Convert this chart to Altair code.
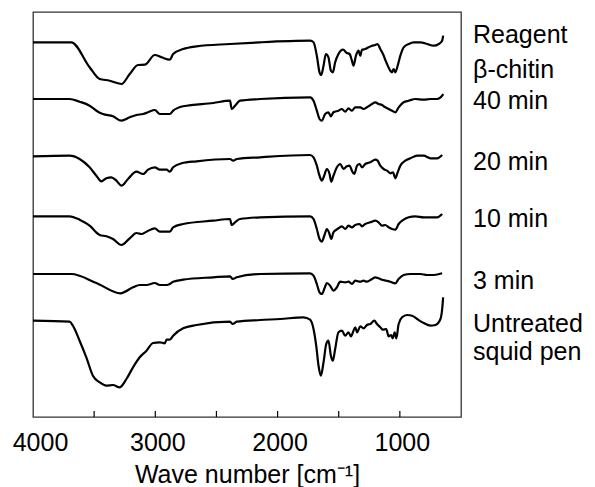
import altair as alt
import pandas as pd

# ---- data (wave number [cm-1], relative transmittance with offsets, a.u.) ----
MAJOR_TICKS = [4000, 3000, 2000, 1000]
MINOR_TICKS = [3500, 3000, 2500, 2000, 1500, 1000]

REAGENT = [(4000, 374.7), (3687, 374.7), (3537, 349.7), (3455, 338), (3373, 336.3), (3305, 333.7),
           (3277, 333), (3209, 343), (3141, 352), (3086, 352.3), (3004, 362), (2949, 359.7),
           (2881, 357.3), (2854, 363), (2772, 368), (2662, 370.7), (2389, 373), (2143, 374.7),
           (1734, 376.3), (1706, 374.7), (1679, 361.3), (1657, 344.7), (1643, 342), (1624, 351.3),
           (1605, 363), (1584, 359.7), (1564, 346.3), (1548, 344.7), (1529, 354.7), (1502, 363),
           (1465, 367.3), (1433, 364), (1411, 363), (1392, 356.3), (1379, 351.3), (1359, 361.3),
           (1338, 366.3), (1324, 361.3), (1310, 367.3), (1283, 368), (1256, 369.7), (1228, 371.3),
           (1201, 372), (1182, 373), (1160, 368), (1138, 363), (1111, 354.7), (1078, 346.3),
           (1064, 344.7), (1051, 348), (1037, 344.7), (1018, 351.3), (996, 361.3), (969, 369.7),
           (928, 373), (887, 374.7), (832, 374.7), (777, 373), (723, 371.3), (682, 373),
           (654, 376.3), (646, 381.3)]

MIN40 = [(4000, 318), (3701, 318), (3619, 315.3), (3537, 311.3), (3469, 305.3), (3428, 303),
         (3346, 300.7), (3277, 296.3), (3209, 299.7), (3154, 302), (3100, 303), (3059, 304.7),
         (3004, 307), (2963, 303), (2922, 303), (2881, 303), (2854, 306.3), (2772, 310.7),
         (2526, 314), (2389, 316.3), (2375, 308), (2348, 311.3), (2307, 316.3), (2143, 318),
         (1734, 319.7), (1706, 316.3), (1679, 306.3), (1657, 298), (1638, 296.3), (1611, 303),
         (1584, 304.7), (1564, 300.7), (1543, 304.7), (1502, 306.3), (1474, 308), (1447, 305.3),
         (1420, 308.7), (1392, 306.3), (1365, 309.7), (1324, 309.7), (1297, 308), (1269, 309.7),
         (1228, 313), (1201, 314.7), (1174, 313), (1146, 312), (1119, 309.7), (1092, 308),
         (1064, 306.3), (1037, 304.7), (1010, 309.7), (969, 314.7), (928, 316.3), (873, 318),
         (805, 317.3), (750, 318), (695, 318), (654, 321.3), (646, 323)]

MIN20 = [(4000, 260.7), (3701, 261.3), (3619, 258), (3537, 249.7), (3482, 241.3), (3441, 235.7),
         (3400, 238.7), (3359, 239.7), (3318, 236.3), (3277, 231.3), (3223, 238), (3154, 245.3),
         (3100, 243), (3059, 247.3), (3004, 249.7), (2963, 247.3), (2908, 247.3), (2881, 245.3),
         (2854, 249.7), (2785, 253.7), (2662, 255.7), (2389, 258), (2362, 256.3), (2334, 258),
         (2143, 259.7), (1734, 262), (1706, 259.7), (1679, 251.3), (1657, 241.3), (1638, 236.3),
         (1619, 241.3), (1597, 248), (1575, 243), (1561, 235.3), (1543, 241.3), (1515, 249.7),
         (1488, 253), (1460, 248), (1433, 250.7), (1411, 251.3), (1392, 246.3), (1373, 243),
         (1350, 251.3), (1329, 253), (1310, 249.7), (1283, 253), (1242, 254.7), (1201, 257.3),
         (1182, 256.3), (1160, 251.3), (1133, 248), (1105, 246.3), (1078, 243.7), (1056, 244.7),
         (1037, 238.7), (1018, 244.7), (996, 251.3), (955, 256.3), (914, 258.7), (859, 261.3),
         (805, 261.3), (750, 258.7), (695, 258.7), (654, 262)]

MIN10 = [(4000, 200.7), (3701, 200.7), (3619, 197.3), (3537, 191.3), (3455, 182), (3400, 180.7),
         (3346, 178), (3277, 172), (3209, 178.7), (3154, 184), (3113, 183), (3072, 185.3),
         (3004, 188.7), (2963, 185.3), (2908, 185.3), (2881, 185.3), (2854, 189.7), (2772, 193),
         (2526, 196.3), (2389, 198), (2375, 192), (2348, 194.7), (2307, 198), (2143, 199.7),
         (1734, 200.7), (1706, 198), (1679, 188), (1657, 178), (1638, 175.3), (1616, 182),
         (1597, 188), (1578, 184), (1561, 178), (1543, 184.7), (1510, 188), (1474, 190.7),
         (1447, 188), (1420, 191.3), (1392, 189.7), (1365, 192), (1329, 193), (1310, 190.7),
         (1283, 193), (1242, 194.7), (1201, 196.3), (1174, 194.7), (1146, 191.3), (1119, 192),
         (1092, 189.7), (1064, 188), (1037, 187.3), (1010, 193), (969, 197.3), (928, 199.7),
         (873, 200.7), (805, 199.7), (750, 199.7), (695, 199.7), (654, 203)]

MIN3 = [(4000, 143), (3687, 143), (3482, 134), (3285, 123.7), (3182, 129.7), (3127, 132),
        (3072, 132), (3004, 134), (2963, 132), (2908, 132), (2881, 133), (2854, 135.3),
        (2772, 137.3), (2526, 139.7), (2389, 140.7), (2367, 138), (2334, 139.7), (2143, 143),
        (1734, 143.7), (1706, 141.3), (1679, 133), (1657, 124.7), (1638, 123), (1616, 128.7),
        (1597, 134), (1570, 131.3), (1543, 126.3), (1515, 129.7), (1488, 135.3), (1447, 134.7),
        (1420, 135.3), (1392, 133), (1365, 136.3), (1324, 135.3), (1297, 136.3), (1269, 135.3),
        (1228, 138), (1201, 139.7), (1174, 138.7), (1146, 137.3), (1111, 136.3), (1078, 135.3),
        (1037, 133.7), (1010, 138), (969, 142), (914, 143), (832, 143), (777, 142), (723, 142),
        (654, 143.7)]

UNTREATED = [(4000, 96.3), (3701, 95.3), (3674, 91.3), (3619, 76.3), (3564, 59.7), (3510, 41.3),
             (3455, 34.7), (3400, 31.3), (3346, 32), (3291, 29.7), (3236, 38), (3182, 49.7),
             (3127, 59.7), (3072, 66.3), (3018, 74), (2963, 74.7), (2922, 73.7), (2908, 77.3),
             (2881, 77.3), (2854, 81.3), (2772, 88.7), (2662, 92), (2389, 95.3), (2367, 93),
             (2334, 95.3), (2143, 97), (1979, 98), (1788, 99.7), (1734, 97.3), (1706, 88),
             (1684, 71.3), (1665, 51.3), (1646, 41.3), (1624, 54.7), (1602, 73), (1584, 76.3),
             (1564, 61.3), (1548, 56.3), (1529, 68), (1502, 84.7), (1474, 86.3), (1447, 81.3),
             (1420, 84.7), (1400, 80.7), (1379, 86.3), (1365, 89.7), (1350, 84.7), (1324, 90.7),
             (1297, 88.7), (1269, 92), (1242, 93), (1209, 96.3), (1187, 93), (1160, 89.7),
             (1138, 87.3), (1111, 88), (1092, 80.7), (1072, 82), (1059, 78.7), (1042, 84.7),
             (1029, 78.7), (1010, 93), (982, 99.7), (941, 102), (900, 101.3), (859, 98),
             (805, 94), (750, 91.3), (709, 92), (668, 98), (654, 108), (646, 119.7)]

SERIES_NAMES = ["Reagent β-chitin", "40 min", "20 min", "10 min", "3 min", "Untreated squid pen"]
SERIES_DATA = [REAGENT, MIN40, MIN20, MIN10, MIN3, UNTREATED]

LABEL_LINES = ["Reagent", "β-chitin", "40 min", "20 min", "10 min", "3 min", "Untreated", "squid pen"]

# ---- build table ----
rows = []
for name, pts in zip(SERIES_NAMES, SERIES_DATA):
    for i, (wn, v) in enumerate(pts):
        rows.append({"series": name, "i": i, "wn": wn, "v": v})
df = pd.DataFrame(rows)

# ---- layout ----
W, H = 428, 405
FONT = "Liberation Sans"
FS = 25
LABEL_BASELINES = [43, 78, 109, 170, 227, 289, 332, 360]  # page pixels
PAD_L, PAD_T = 33, 12

x_scale = alt.Scale(domain=[500, 4000], reverse=True, nice=False, zero=False)
y_scale = alt.Scale(domain=[0, 405], nice=False, zero=False)
x_axis = alt.Axis(values=MAJOR_TICKS, format="d", title="Wave number [cm⁻¹]", ticks=False,
                  tickSize=0, domain=False, grid=False, labelPadding=13, labelFontSize=FS,
                  titleFontSize=FS, titlePadding=7, labelFlush=False,
                  labelOffset={"condition": {"test": "datum.value == 4000", "value": 7}, "value": 2})

lines = alt.Chart(df).mark_line(color="black", strokeWidth=2.2, interpolate="monotone").encode(
    x=alt.X("wn:Q", scale=x_scale, axis=x_axis),
    y=alt.Y("v:Q", scale=y_scale, axis=None),
    detail="series:N",
    order="i:Q",
)

ticks = alt.Chart(pd.DataFrame({"wn": MINOR_TICKS})).mark_rule(color="black", strokeWidth=1.2).encode(
    x=alt.X("wn:Q", scale=x_scale, axis=x_axis),
    y=alt.value(H),
    y2=alt.value(H - 6),
)

layers = [lines, ticks]
for text, base in zip(LABEL_LINES, LABEL_BASELINES):
    layers.append(
        alt.Chart(pd.DataFrame({"t": [text]})).mark_text(
            align="left", baseline="alphabetic", fontSize=FS, font=FONT, color="black"
        ).encode(text="t:N", x=alt.value(473 - PAD_L), y=alt.value(base - PAD_T))
    )

chart = alt.layer(*layers).properties(
    width=W, height=H,
    padding={"left": PAD_L, "top": PAD_T, "right": 595 - PAD_L - W, "bottom": 487 - PAD_T - H},
    autosize=alt.AutoSizeParams(type="none"),
).configure_view(stroke="#333333", strokeWidth=1.3).configure_axis(
    labelFont=FONT, titleFont=FONT, labelColor="black", titleColor="black", titleFontWeight="normal"
)

chart.save("out.html", embed_options={"renderer": "svg", "actions": False})
